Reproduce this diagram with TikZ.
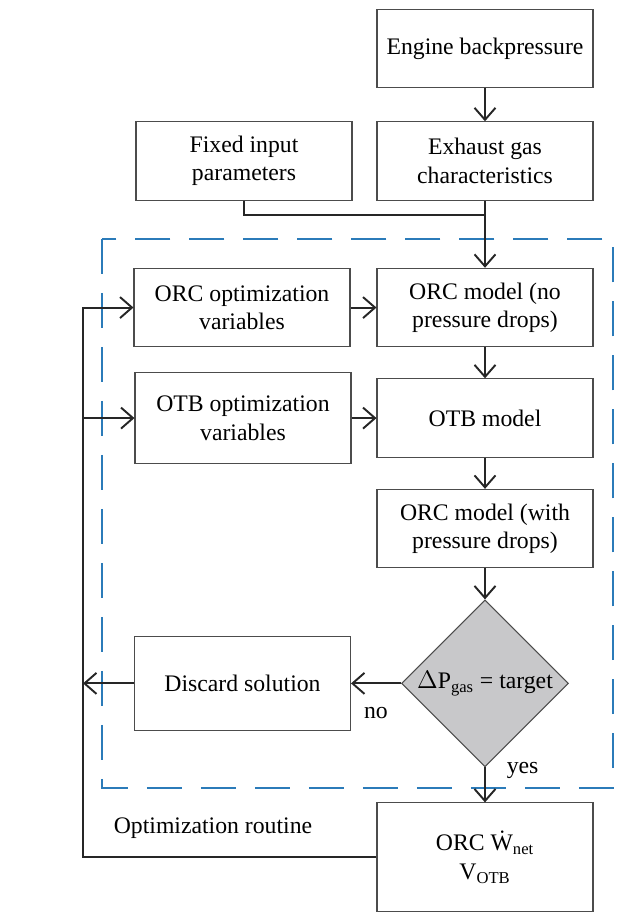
\documentclass[tikz,border=0pt]{standalone}
\usepackage{fontspec}
\setmainfont{Liberation Serif}
\usetikzlibrary{positioning}
\usetikzlibrary{shapes.geometric}
\usetikzlibrary{arrows.meta}
\definecolor{routineblue}{HTML}{2B7BB9}
\definecolor{testgray}{HTML}{C8C8CA}

\begin{document}
\begin{tikzpicture}[x=0.02cm,y=-0.02cm,node distance=0.64cm and 0.5cm,
    >={Straight Barb[length=2.4mm,width=4.2mm]},
    every node/.style={font=\fontsize{13.5}{16.2}\selectfont},
    box/.style={draw=black!70,line width=0.6pt,minimum width=4.32cm,minimum height=1.57cm,align=center,inner sep=2pt},
    test/.style={diamond,draw=black!70,fill=testgray,line width=0.6pt,minimum size=3.34cm,inner sep=0pt,aspect=1},
    flow/.style={line width=1.1pt,draw=black!85}]
    \useasboundingbox (0,0) rectangle (616,916);

    % optimization routine frame
    \draw[routineblue,line width=0.85pt,dash pattern=on 0.7cm off 0.38cm] (102,239) rectangle (613,788);
    \node (routine) at (213,828) {Optimization routine};

    \node (eng) [box] at (485,48.5) {Engine backpressure};
    \node (exh) [box,below=0.66cm of eng] {Exhaust gas\\characteristics};
    \node (fix) [box,left=0.48cm of exh] {Fixed input\\parameters};
    \node (orcm) [box,below=1.34cm of exh] {ORC model (no\\pressure drops)};
    \node (orcv) [box,left=0.52cm of orcm] {ORC optimization\\variables};
    \node (otbm) [box,below=0.62cm of orcm] {OTB model};
    \node (otbv) [box,minimum height=1.83cm,left=of otbm] {OTB optimization\\variables};
    \node (orcp) [box,below=0.62cm of otbm] {ORC model (with\\pressure drops)};
    \node (check) [test,below=0.62cm of orcp] {$\Delta$P\textsubscript{gas} = target};
    \node (discard) [box,minimum height=1.87cm,left=1cm of check] {Discard solution};
    \node (result) [box,minimum height=2.17cm,below=0.7cm of check] {ORC \.{W}\textsubscript{net}\\V\textsubscript{OTB}};
    \coordinate (back) at (83,0);

    \draw[flow,->]
      (eng) edge (exh)
      (exh) edge (orcm)
      (orcv) edge (orcm)
      (orcm) edge (otbm)
      (otbv) edge (otbm)
      (otbm) edge (orcp)
      (orcp) edge (check)
    ;
    \draw[flow] (fix.south) -- ++(0,14) -| (exh.south);
    \draw[flow,->] (check) -- node[below=0.34cm] {no} (discard);
    \draw[flow,->] (check) -- node[pos=0.1,right=0.3cm] {yes} (result);
    \draw[flow,->] (discard) -- (back |- discard.west);
    \draw[flow,->] (result.west) -- (back |- result.west) |- (orcv.west);
    \draw[flow,->] (back |- otbv.west) -- (otbv.west);
  \end{tikzpicture}
\end{document}
